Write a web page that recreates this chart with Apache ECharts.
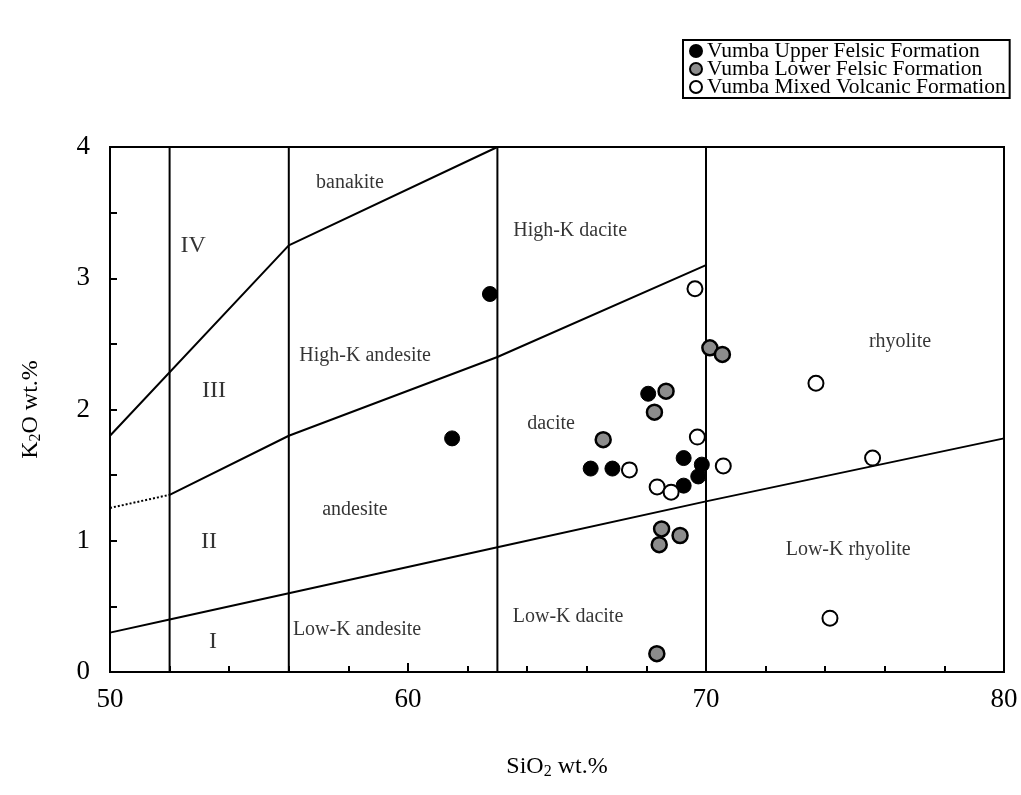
<!DOCTYPE html>
<html>
<head>
<meta charset="utf-8">
<script src="https://cdn.jsdelivr.net/npm/echarts@6/dist/echarts.min.js"></script>
<style>
  html, body { margin: 0; padding: 0; background: #fff; }
  #main { width: 1021px; height: 795px; }
</style>
</head>
<body>
<div id="main"></div>
<script>
// 数据点 [SiO2, K2O]
const upperFelsic = [
    [62.75, 2.88], [61.48, 1.78], [68.06, 2.12], [66.13, 1.55], [66.86, 1.55],
    [69.25, 1.63], [69.25, 1.42], [69.86, 1.58], [69.74, 1.49]
]
const lowerFelsic = [
    [68.66, 2.14], [68.27, 1.98], [66.55, 1.77], [70.13, 2.47], [70.55, 2.42],
    [68.51, 1.09], [68.43, 0.97], [69.13, 1.04], [68.35, 0.14]
]
const mixedVolcanic = [
    [69.63, 2.92], [67.43, 1.54], [68.36, 1.41], [68.83, 1.37], [69.71, 1.79],
    [70.58, 1.57], [73.69, 2.20], [75.59, 1.63], [74.16, 0.41]
]

// 分区边界线
const bnkLine = [[50, 1.8], [56, 3.25], [63, 4.0]]
const highKDotted = [[50, 1.25], [52, 1.35]]
const highKLine = [[52, 1.35], [56, 1.8], [63, 2.4], [70, 3.1]]
const lowKLine = [[50, 0.3], [52, 0.4], [56, 0.6], [63, 0.95], [70, 1.3], [80, 1.78]]
const vLine52 = [[52, 0], [52, 4]]
const vLine56 = [[56, 0], [56, 4]]
const vLine63 = [[63, 0], [63, 4]]
const vLine70 = [[70, 0], [70, 4]]

// 区域文字 [x, y, 文字]
const fieldLabels = [
    [58.05, 3.73, 'banakite'],
    [65.44, 3.36, 'High-K dacite'],
    [58.56, 2.41, 'High-K andesite'],
    [64.80, 1.895, 'dacite'],
    [76.51, 2.52, 'rhyolite'],
    [58.22, 1.24, 'andesite'],
    [74.77, 0.93, 'Low-K rhyolite'],
    [58.29, 0.325, 'Low-K andesite'],
    [65.37, 0.424, 'Low-K dacite']
]
const romanLabels = [
    [52.79, 3.25, 'IV'],
    [53.49, 2.14, 'III'],
    [53.32, 0.996, 'II'],
    [53.46, 0.234, 'I']
]

const serif = '"Liberation Serif", "DejaVu Serif", serif'

function boundary(data, dashed) {
    return {
        type: 'line',
        data: data,
        symbol: 'none',
        silent: true,
        z: 1,
        lineStyle: { color: '#000', width: 2, type: dashed ? 'dotted' : 'solid' }
    }
}

function labelSeries(data, size) {
    return {
        type: 'scatter',
        data: data,
        symbolSize: 0,
        silent: true,
        z: 3,
        label: {
            show: true,
            position: 'inside',
            formatter: (p) => p.value[2],
            color: '#000',
            textBorderWidth: 0,
            fontFamily: serif,
            fontSize: size
        }
    }
}

const axisNameRich = {
    a: { fontFamily: serif, fontSize: 24, color: '#000', lineHeight: 30 },
    sub: { fontFamily: serif, fontSize: 16, color: '#000', lineHeight: 30, padding: [10, 0, 0, 0] }
}

const cs = echarts.init(document.getElementById('main'))
const option = {
    backgroundColor: '#fff',
    animation: false,
    grid: {
        left: 110, right: 17, top: 147, bottom: 123,
        show: true, borderColor: '#000', borderWidth: 2
    },
    legend: {
        data: ['Vumba Upper Felsic Formation', 'Vumba Lower Felsic Formation', 'Vumba Mixed Volcanic Formation'],
        orient: 'vertical',
        left: 683, top: 40,
        itemWidth: 12, itemHeight: 12, itemGap: -4,
        padding: [0, 4, 0, 6],
        borderColor: '#000', borderWidth: 2,
        textStyle: { fontFamily: serif, fontSize: 21.5, color: '#000' }
    },
    xAxis: {
        type: 'value', min: 50, max: 80, interval: 10,
        name: '{a|SiO}{sub|2}{a| wt.%}',
        nameLocation: 'middle', nameGap: 80,
        nameTextStyle: { rich: axisNameRich },
        axisLine: { lineStyle: { color: '#000', width: 2 } },
        axisTick: { inside: true, length: 9, lineStyle: { color: '#000', width: 2 } },
        minorTick: { show: true, splitNumber: 5, length: 6, lineStyle: { color: '#000', width: 2 } },
        axisLabel: { fontFamily: serif, fontSize: 27, color: '#000', margin: 14 },
        splitLine: { show: false }
    },
    yAxis: {
        type: 'value', min: 0, max: 4, interval: 1,
        name: '{a|K}{sub|2}{a|O wt.%}',
        nameLocation: 'middle', nameGap: 64,
        nameTextStyle: { rich: axisNameRich },
        axisLine: { lineStyle: { color: '#000', width: 2 } },
        axisTick: { inside: true, length: 7, lineStyle: { color: '#000', width: 2 } },
        minorTick: { show: true, splitNumber: 2, length: 7, lineStyle: { color: '#000', width: 2 } },
        axisLabel: { fontFamily: serif, fontSize: 27, color: '#000', margin: 20 },
        splitLine: { show: false }
    },
    series: [
        boundary(bnkLine),
        boundary(highKDotted, true),
        boundary(highKLine),
        boundary(lowKLine),
        boundary(vLine52),
        boundary(vLine56),
        boundary(vLine63),
        boundary(vLine70),
        labelSeries(fieldLabels, 20),
        labelSeries(romanLabels, 24),
        {
            type: 'scatter', name: 'Vumba Upper Felsic Formation', data: upperFelsic,
            symbol: 'circle', symbolSize: 15, z: 5,
            itemStyle: { color: '#000', borderColor: '#000', borderWidth: 1, opacity: 1 }
        },
        {
            type: 'scatter', name: 'Vumba Lower Felsic Formation', data: lowerFelsic,
            symbol: 'circle', symbolSize: 15, z: 5,
            itemStyle: { color: '#8c8c8c', borderColor: '#000', borderWidth: 2.5, opacity: 1 }
        },
        {
            type: 'scatter', name: 'Vumba Mixed Volcanic Formation', data: mixedVolcanic,
            symbol: 'circle', symbolSize: 15, z: 5,
            itemStyle: { color: '#fff', borderColor: '#000', borderWidth: 2, opacity: 1 }
        }
    ]
}
cs.setOption(option)
</script>
</body>
</html>
